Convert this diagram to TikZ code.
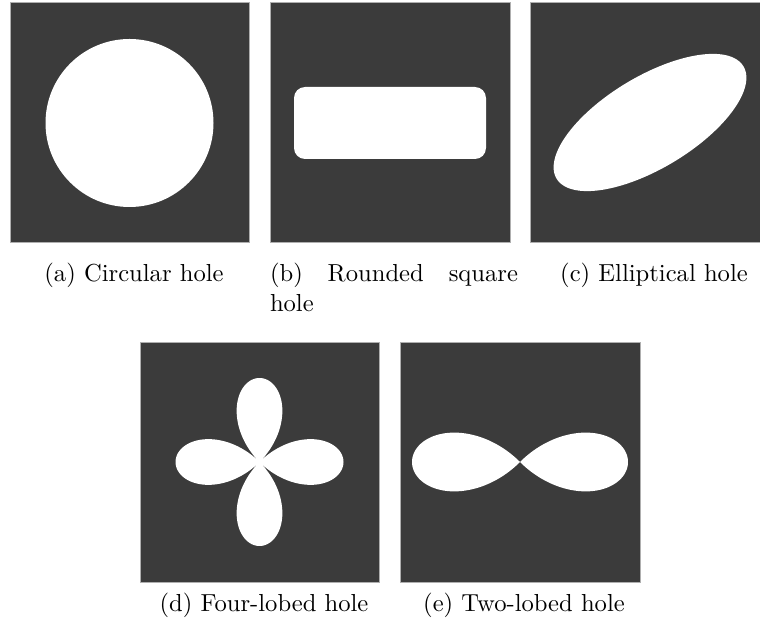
\documentclass[tikz,border=0pt]{standalone}
\usetikzlibrary{calc}
\definecolor{panelgray}{RGB}{59,59,59}
\definecolor{edgegray}{RGB}{175,175,175}
\tikzset{
  panel/.style={fill=panelgray, draw=edgegray, line width=0.4pt},
  hole/.style={fill=white, draw=none},
  subcap/.style={inner sep=0pt, outer sep=0pt, text width=100.8pt, anchor=base west, font=\normalsize},
}
\begin{document}
\begin{tikzpicture}[x=0.4065pt, y=-0.4065pt]
\useasboundingbox (0,0) rectangle (760,632);
\fill[white] (0,0) rectangle (760,632);
\begin{scope}
\clip (0,0) rectangle (760,632);
% (a) circular hole
\path[panel] (10,3) rectangle (249,243);
\path[hole] (129.5,123) circle[radius=84];
% (b) rounded square hole
\path[panel] (270,3) rectangle (510,243);
\path[hole, rounded corners=4.5pt] (294,87) rectangle (486,159);
% (c) elliptical hole
\path[panel] (530,3) rectangle (771,243);
\path[hole] plot[domain=0:360, samples=240, smooth cycle]
  ({650 + 109*cos(\x)*cos(31) - 46*sin(\x)*sin(31)},
   {122.5 - (109*cos(\x)*sin(31) + 46*sin(\x)*cos(31))});
% (d) four-lobed hole
\path[panel] (140,342) rectangle (379,582);
\path[hole] plot[domain=0:360, samples=400]
  ({259.5 + 84*cos(2*\x)*cos(\x)}, {462 - 84*cos(2*\x)*sin(\x)}) -- cycle;
% (e) two-lobed hole
\path[panel] (400,342) rectangle (640,582);
\path[hole] plot[domain=-45:45, samples=200]
  ({520 + 108*cos(2*\x)*cos(\x)}, {462 - 108*cos(2*\x)*sin(\x)}) -- cycle;
\path[hole] plot[domain=135:225, samples=200]
  ({520 + 108*cos(2*\x)*cos(\x)}, {462 - 108*cos(2*\x)*sin(\x)}) -- cycle;
\end{scope}
% captions
\node[subcap, align=center] (capa) at (10,282) {(a) Circular hole};
\node[subcap, align=left] (capb) at (270,282) {\hbox to 100.8pt{(b)\hfill Rounded\hfill square}\\hole};
\node[subcap, align=center] (capc) at (530,282) {(c) Elliptical hole};
\node[subcap, align=center] (capd) at (140,612) {(d) Four-lobed hole};
\node[subcap, align=center] (cape) at (400,612) {(e) Two-lobed hole};
\end{tikzpicture}
\end{document}
